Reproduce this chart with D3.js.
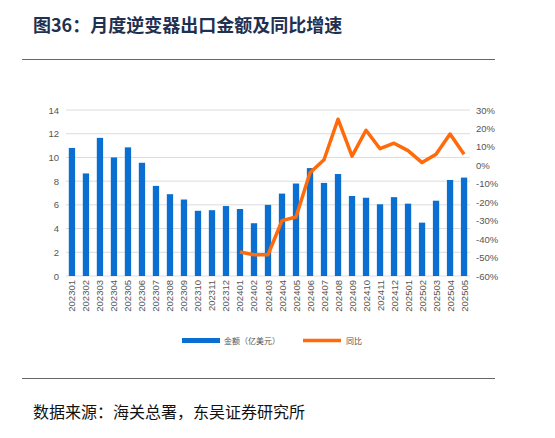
<!DOCTYPE html>
<html><head><meta charset="utf-8">
<script src="https://cdn.jsdelivr.net/npm/d3@7"></script>
<style>body{margin:0;background:#fff;font-family:"Noto Sans CJK SC",sans-serif;}</style>
</head><body><div id="chart"></div>
<script>
const months = ["202301","202302","202303","202304","202305","202306","202307","202308","202309","202310","202311","202312",
  "202401","202402","202403","202404","202405","202406","202407","202408","202409","202410","202411","202412",
  "202501","202502","202503","202504","202505"];
const amount = [10.8,8.65,11.65,10,10.85,9.55,7.6,6.9,6.45,5.5,5.55,5.9,5.65,4.45,6.0,6.95,7.8,9.1,7.85,8.6,6.75,6.6,6.05,6.65,6.1,4.5,6.35,8.1,8.3];
const yoy = [null,null,null,null,null,null,null,null,null,null,null,null,
  -47,-48.5,-48.5,-30,-28,-4,3,25,5,19,9,12,8,1.5,6,17,6];
const leftTicks = [0,2,4,6,8,10,12,14];
const rightTicks = [-60,-50,-40,-30,-20,-10,0,10,20,30];

const W = 555, H = 438;
const svg = d3.select("#chart").append("svg").attr("width", W).attr("height", H);

svg.append("text").attr("x", 33).attr("y", 32).attr("font-size", 18).attr("font-weight", "bold")
  .attr("fill", "#1f3050").attr("font-family", "Noto Sans CJK SC").text("图36：月度逆变器出口金额及同比增速");
svg.append("line").attr("x1", 22).attr("x2", 495).attr("y1", 59.5).attr("y2", 59.5).attr("stroke", "#666").attr("stroke-width", 1);
svg.append("line").attr("x1", 22).attr("x2", 495).attr("y1", 378.5).attr("y2", 378.5).attr("stroke", "#666").attr("stroke-width", 1);
svg.append("text").attr("x", 33).attr("y", 418).attr("font-size", 16).attr("fill", "#111")
  .text("数据来源：海关总署，东吴证券研究所");

const m = {l: 66, r: 470, t: 110, b: 276};
const x = d3.scaleBand().domain(months).range([m.l, m.r]).paddingInner(0.55).paddingOuter(0.2);
const yL = d3.scaleLinear().domain([0, 14]).range([m.b, m.t]);
const yR = d3.scaleLinear().domain([-60, 30]).range([m.b, m.t]);

svg.append("g").selectAll("line").data(leftTicks).join("line")
  .attr("x1", m.l).attr("x2", m.r).attr("y1", d => yL(d)).attr("y2", d => yL(d))
  .attr("stroke", "#dcdcdc").attr("stroke-width", 1);

const axL = svg.append("g").attr("transform", `translate(${m.l},0)`)
  .call(d3.axisLeft(yL).tickValues(leftTicks).tickSize(0).tickPadding(7));
const axR = svg.append("g").attr("transform", `translate(${m.r},0)`)
  .call(d3.axisRight(yR).tickValues(rightTicks).tickSize(0).tickPadding(6).tickFormat(d => d + "%"));
[axL, axR].forEach(a => { a.select(".domain").remove(); a.selectAll("text").attr("font-size", 9.5).attr("fill", "#555").attr("font-family", "Liberation Sans"); });

svg.append("g").selectAll("rect").data(amount).join("rect")
  .attr("x", (d, i) => x(months[i])).attr("width", x.bandwidth())
  .attr("y", d => yL(d)).attr("height", d => yL(0) - yL(d)).attr("fill", "#0a6fd0");

svg.append("g").selectAll("text").data(months).join("text")
  .attr("transform", d => `translate(${x(d) + x.bandwidth() / 2 + 3.5},${m.b + 4}) rotate(-90)`)
  .attr("text-anchor", "end").attr("font-size", 9.5).attr("fill", "#555").attr("font-family", "Liberation Sans").text(d => d);

const line = d3.line().defined(d => d[1] != null).x(d => x(d[0]) + x.bandwidth() / 2).y(d => yR(d[1]));
svg.append("path").datum(months.map((mo, i) => [mo, yoy[i]])).attr("d", line)
  .attr("fill", "none").attr("stroke", "#ff6a0a").attr("stroke-width", 3.5).attr("stroke-linejoin", "round");

const lg = svg.append("g").attr("font-size", 8).attr("fill", "#555");
lg.append("rect").attr("x", 182).attr("y", 338).attr("width", 38).attr("height", 5).attr("fill", "#0a6fd0");
lg.append("text").attr("x", 224).attr("y", 344).text("金额（亿美元）");
lg.append("line").attr("x1", 303).attr("x2", 341).attr("y1", 340.5).attr("y2", 340.5).attr("stroke", "#ff6a0a").attr("stroke-width", 3.5);
lg.append("text").attr("x", 346).attr("y", 344).text("同比");
</script></body></html>
